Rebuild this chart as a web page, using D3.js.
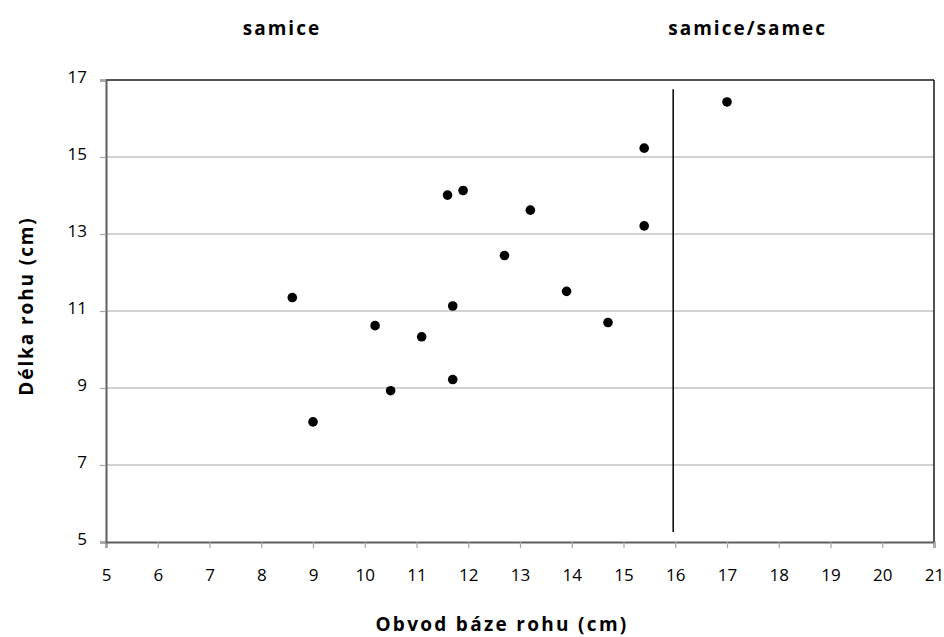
<!DOCTYPE html>
<html><head><meta charset="utf-8">
<script src="https://cdn.jsdelivr.net/npm/d3@7"></script>
<style>body{margin:0;background:#fff;} svg{display:block;font-family:"Open Sans",sans-serif;}</style>
</head><body>
<svg id="c" width="944" height="637"></svg>
<script>
const xValues = [8.6, 9.0, 10.2, 10.5, 11.1, 11.6, 11.9, 11.7, 11.7, 12.7, 13.2, 13.9, 14.7, 15.4, 15.4, 17.0];
const yValues = [11.35, 8.12, 10.62, 8.93, 10.33, 14.01, 14.13, 11.13, 9.22, 12.44, 13.62, 11.51, 10.70, 15.23, 13.21, 16.43];
const dividerX = [15.96, 15.96];
const dividerY = [16.76, 5.26];
const xTicks = [5,6,7,8,9,10,11,12,13,14,15,16,17,18,19,20,21];
const yTicks = [5,7,9,11,13,15,17];
const groupLabels = ["samice", "samice/samec"];
const groupCenters = [8.4, 17.4];
const xTitle = "Obvod báze rohu (cm)";
const yTitle = "Délka rohu (cm)";

const svg = d3.select("#c");
const L = 106, R = 934, T = 80, B = 542;
const x = d3.scaleLinear().domain([5,21]).range([L,R]);
const y = d3.scaleLinear().domain([5,17]).range([B,T]);

// gridlines
svg.append("g").selectAll("line").data(yTicks.filter(d=>d>5 && d<17)).join("line")
  .attr("x1",L).attr("x2",R).attr("y1",d=>y(d)).attr("y2",d=>y(d))
  .attr("stroke","#a6a6a6").attr("stroke-width",1.2);

// plot border top / right
svg.append("line").attr("x1",L).attr("x2",R).attr("y1",T).attr("y2",T).attr("stroke","#1a1a1a").attr("stroke-width",1.5);
svg.append("line").attr("x1",R).attr("x2",R).attr("y1",T).attr("y2",B).attr("stroke","#1a1a1a").attr("stroke-width",1.5);

// axes
const xAxis = svg.append("g").attr("transform",`translate(0,${B})`)
  .call(d3.axisBottom(x).tickValues(xTicks).tickFormat(d3.format("d")).tickSize(6).tickPadding(21));
const yAxis = svg.append("g").attr("transform",`translate(${L},0)`)
  .call(d3.axisLeft(y).tickValues(yTicks).tickFormat(d3.format("d")).tickSize(6).tickPadding(13));
[xAxis,yAxis].forEach(a=>{
  a.select(".domain").attr("stroke","#5f5f5f").attr("stroke-width",2);
  a.selectAll(".tick line").attr("stroke","#a6a6a6").attr("stroke-width",1.2);
  a.selectAll(".tick text").attr("fill","#000").style("font-size","17px").style("font-family","'Open Sans',sans-serif");
});
yAxis.selectAll(".tick text").attr("dy","0.15em");

// divider line
svg.append("line")
  .attr("x1",x(dividerX[0])).attr("x2",x(dividerX[1]))
  .attr("y1",y(dividerY[0])).attr("y2",y(dividerY[1]))
  .attr("stroke","#000").attr("stroke-width",1.5);

// points
svg.append("g").selectAll("circle").data(xValues.map((v,i)=>[v,yValues[i]])).join("circle")
  .attr("cx",d=>x(d[0])).attr("cy",d=>y(d[1])).attr("r",4.8).attr("fill","#000");

// group labels
svg.append("g").selectAll("text").data(groupLabels).join("text")
  .attr("x",(d,i)=>x(groupCenters[i])).attr("y",35)
  .attr("text-anchor","middle").attr("font-weight","bold").style("font-size","19px")
  .style("letter-spacing","2px").text(d=>d);

// axis titles
svg.append("text").attr("x",502).attr("y",631).attr("text-anchor","middle")
  .attr("font-weight","bold").style("font-size","19px").style("letter-spacing","2.3px").text(xTitle);
svg.append("text").attr("transform","translate(33,306) rotate(-90)").attr("text-anchor","middle")
  .attr("font-weight","bold").style("font-size","19px").style("letter-spacing","1.9px").text(yTitle);
</script>
</body></html>
